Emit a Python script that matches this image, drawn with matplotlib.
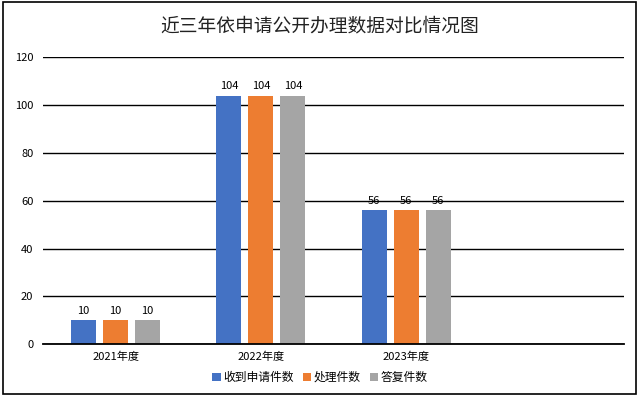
import numpy as np
import matplotlib
matplotlib.use('Agg')
import matplotlib.pyplot as plt
from matplotlib.patches import Rectangle

plt.rcParams['font.family'] = ['Noto Sans CJK SC', 'DejaVu Sans']

# data
years = ['2021年度', '2022年度', '2023年度', '']
received = [10, 104, 56]
handled = [10, 104, 56]
answered = [10, 104, 56]
series_names = ['收到申请件数', '处理件数', '答复件数']
colors = ['#4472C4', '#ED7D31', '#A5A5A5']

fig = plt.figure(figsize=(6.4, 3.96), dpi=100)
ax = fig.add_axes([0.0672, 0.1306, 0.9078, 0.7244])

# outer border
fig.patches.append(Rectangle((0.004, 0.004), 0.99, 0.992, transform=fig.transFigure,
                             fill=False, edgecolor='black', linewidth=1.2))

x = np.arange(len(years))
width = 0.172
step = 0.22
for i, (vals, name, c) in enumerate(zip([received, handled, answered], series_names, colors)):
    pos = x[:len(vals)] + (i - 1) * step
    bars = ax.bar(pos, vals, width, color=c, label=name, zorder=3)
    for b, v in zip(bars, vals):
        ax.text(b.get_x() + b.get_width() / 2, v + 2, str(v), ha='center', va='bottom',
                fontsize=8, color='black')

ax.set_xlim(-0.5, len(years) - 0.5)
ax.set_ylim(0, 120)
ax.set_yticks(range(0, 121, 20))
ax.set_xticks(x[:3])
ax.set_xticklabels(years[:3], fontsize=8)
ax.tick_params(axis='y', labelsize=8, length=0, pad=7)
ax.tick_params(axis='x', length=0, pad=5)
ax.grid(axis='y', color='black', linewidth=1, zorder=0)
ax.axhline(0, color='black', linewidth=1.3, zorder=4, clip_on=False)
for s in ax.spines.values():
    s.set_visible(False)

fig.text(0.5, 0.935, '近三年依申请公开办理数据对比情况图', ha='center', va='center',
         fontsize=13.5, color='#222222')

fig.legend(loc='center', bbox_to_anchor=(0.5, 0.047), ncol=3, frameon=False,
           fontsize=8.5, handlelength=0.7, handleheight=0.7, handletextpad=0.2,
           columnspacing=0.8)

fig.savefig('out.png', dpi=100)
